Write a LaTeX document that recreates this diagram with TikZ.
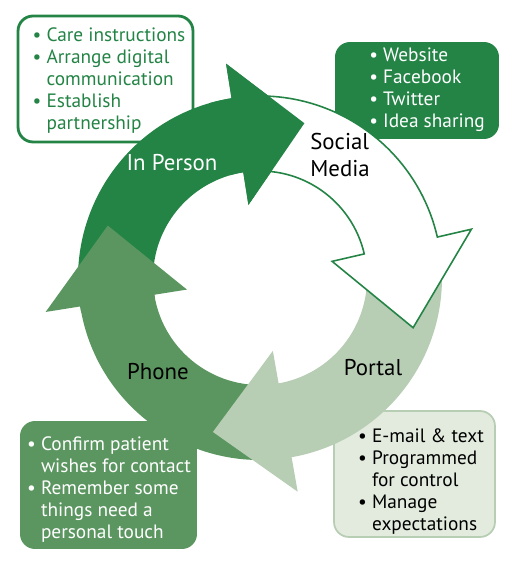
\documentclass[tikz,border=0pt]{standalone}
\usepackage{fontspec}
\setmainfont{PT Sans}
\usetikzlibrary{positioning}

\definecolor{darkgreen}{RGB}{35,132,69}
\definecolor{midgreen}{RGB}{91,150,96}
\definecolor{palegreen}{RGB}{183,206,180}
\definecolor{boxgreen}{RGB}{226,235,221}

% one curved arrow of the ring: style, tail angle, head base angle, tip angle
\newcommand{\ringarrow}[4]{%
  \path[#1] (#2:182) arc[start angle=#2, end angle=#3, radius=182]
    -- (#3:217) -- (#4:161) -- (#3:74) -- (#3:107)
    arc[start angle=#3, end angle=#2, radius=107] -- cycle;}

\begin{document}
\begin{tikzpicture}[x=0.02cm,y=0.02cm]
	\tikzstyle{listbox}=[rounded corners=0.3cm, line width=1.6pt]
	\tikzstyle{listtext}=[font=\fontsize{11}{12.5}\selectfont, inner sep=0pt]
	\tikzstyle{ringlabel}=[font=\fontsize{13}{15}\selectfont, inner sep=0pt]

	\useasboundingbox (0,0) rectangle (512,568);

	% the four lists
	\node[listbox, draw=darkgreen, fill=white, minimum width=3.5cm, minimum height=2.52cm] (personbox) at (105.5,489) {};
	\node[listbox, fill=darkgreen, minimum width=3.28cm, minimum height=1.94cm] (socialbox) at (417,477.5) {};
	\node[listbox, fill=boxgreen, draw=palegreen, line width=1pt, minimum width=3.22cm, minimum height=2.52cm] (portalbox) at (414.5,94) {};
	\node[listbox, fill=midgreen, minimum width=3.54cm, minimum height=2.56cm] (phonebox) at (108.5,83) {};

	\node[listtext, text=darkgreen] (personlist) at (109,487) {\begin{tabular}{@{}l@{ }l@{}}
		\textbullet & Care instructions\\
		\textbullet & Arrange digital\\
		 & communication\\
		\textbullet & Establish\\
		 & partnership
	\end{tabular}};
	\node[listtext, text=white] (sociallist) at (427,477.5) {\begin{tabular}{@{}l@{ }l@{}}
		\textbullet & Website\\
		\textbullet & Facebook\\
		\textbullet & Twitter\\
		\textbullet & Idea sharing
	\end{tabular}};
	\node[listtext] (portallist) at (421,86) {\begin{tabular}{@{}l@{ }l@{}}
		\textbullet & E-mail \& text\\
		\textbullet & Programmed\\
		 & for control\\
		\textbullet & Manage\\
		 & expectations
	\end{tabular}};
	\node[listtext, text=white] (phonelist) at (109,78) {\begin{tabular}{@{}l@{ }l@{}}
		\textbullet & Confirm patient\\
		 & wishes for contact\\
		\textbullet & Remember some\\
		 & things need a\\
		 & personal touch
	\end{tabular}};

	% the ring, each head over the next tail
	\begin{scope}[shift={(260,290)}]
		\ringarrow{fill=darkgreen}{191}{99}{74}
		\ringarrow{fill=midgreen}{278}{189}{161}
		\ringarrow{fill=palegreen}{11}{-80}{-107}
		\ringarrow{fill=white, draw=darkgreen, line width=0.9pt}{97}{13}{-18}
		\ringarrow{fill=darkgreen}{106}{99}{74}
	\end{scope}

	\node[ringlabel, text=white] (inperson) at (172,405) {In Person};
	\node[ringlabel, align=left, anchor=west] (social) at (310,413) {Social\\Media};
	\node[ringlabel] (portal) at (373,200) {Portal};
	\node[ringlabel] (phone) at (158,196) {Phone};
\end{tikzpicture}
\end{document}
